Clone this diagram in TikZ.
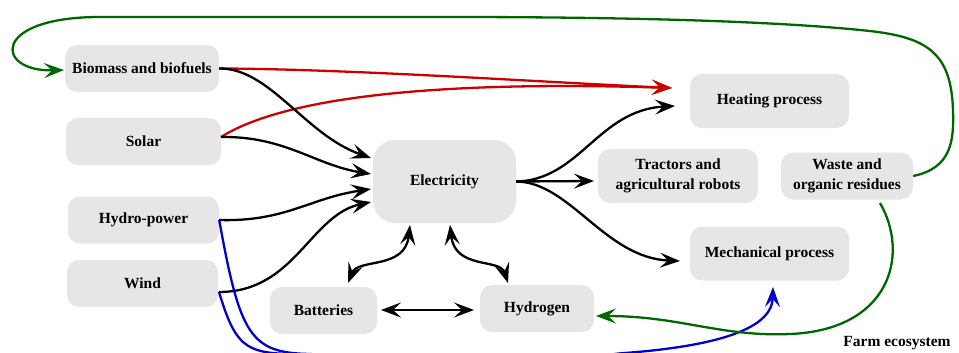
\documentclass[tikz,border=0pt]{standalone}
\usepackage{fontspec}
\setmainfont{Liberation Serif}
\usetikzlibrary{arrows.meta,calc}
\definecolor{boxgray}{HTML}{E6E6E6}
\definecolor{redline}{HTML}{CC0000}
\definecolor{greenline}{HTML}{006600}
\definecolor{blueline}{HTML}{0000CC}
\begin{document}
\begin{tikzpicture}[x=1pt,y=-1pt,
  box/.style={rectangle, rounded corners=12pt, fill=boxgray, align=center,
    font=\fontsize{15.5}{19.5}\selectfont\bfseries, inner sep=0pt},
  tip/.style={-{Stealth[length=20pt,width=15pt,inset=8pt]}},
  both/.style={{Stealth[length=20pt,width=15pt,inset=8pt]}-{Stealth[length=20pt,width=15pt,inset=8pt]}},
  conn/.style={line width=2.3pt, black},
  redc/.style={line width=2.3pt, redline},
  greenc/.style={line width=2.3pt, greenline},
  bluec/.style={line width=2.3pt, blueline},
  lbl/.style={font=\fontsize{15.5}{19}\selectfont\bfseries}
]
\useasboundingbox (0,0) rectangle (959,353);
\clip (0,0) rectangle (959,353);

% nodes
\node[box, minimum width=154pt, minimum height=47pt] (bio) at (142,68.5) {Biomass and biofuels};
\node[box, minimum width=155pt, minimum height=47pt] (solar) at (143.5,141.5) {Solar};
\node[box, minimum width=151pt, minimum height=47pt] (hydro) at (143.5,220) {Hydro-power};
\node[box, minimum width=151pt, minimum height=47pt] (wind) at (142.5,283.5) {Wind};
\node[box, rounded corners=22pt, minimum width=143pt, minimum height=83pt] (elec) at (444.5,181.5) {Electricity};
\node[box, minimum width=107pt, minimum height=47pt] (batt) at (323.5,310.5) {Batteries};
\node[box, minimum width=114pt, minimum height=47pt] (hyd) at (537,308.5) {Hydrogen};
\node[box, minimum width=159pt, minimum height=54pt] (heat) at (769.5,101) {Heating process};
\node[box, minimum width=160pt, minimum height=54pt] (tract) at (678,176) {Tractors and\\agricultural robots};
\node[box, minimum width=132pt, minimum height=47pt] (waste) at (847,176) {Waste and\\organic residues};
\node[box, minimum width=159pt, minimum height=54pt] (mech) at (769.5,253.5) {Mechanical process};
\node[lbl] (farm) at (897,343) {Farm ecosystem};

% end coordinates
\coordinate (heatR) at (672,88);
\coordinate (heatB) at (675,106);
\coordinate (eIn1) at (371,158);
\coordinate (eIn2) at (371,174);
\coordinate (eIn3) at (371,189);
\coordinate (eIn4) at (371,202);
\coordinate (tractIn) at (594,181);
\coordinate (mechIn) at (680,261);
\coordinate (battUp) at (348,283);
\coordinate (elecBL) at (410,225);
\coordinate (elecBR) at (450,225);
\coordinate (hydUp) at (508,283);
\coordinate (battR) at (381,310);
\coordinate (hydL) at (474,310);
\coordinate (windOut) at (219,292);
\coordinate (solarOut) at (221,137);
\coordinate (mechBlue) at (773,287);
\coordinate (bioIn) at (64,70);
\coordinate (hydIn) at (596,316);
\coordinate (wasteBot) at (880,203);

% red
\draw[redc, tip] (bio.east) .. controls (350,69) and (540,82) .. (heatR);
\draw[redc, tip] (solarOut) .. controls (280,100) and (420,80) .. (heatR);

% black inputs to electricity
\draw[conn, tip] (bio.east) .. controls (270,68) and (305,135) .. (eIn1);
\draw[conn, tip] (solarOut) .. controls (285,136) and (315,165) .. (eIn2);
\draw[conn, tip] (hydro.east) .. controls (285,222) and (310,198) .. (eIn3);
\draw[conn, tip] (windOut) .. controls (295,292) and (310,215) .. (eIn4);

% electricity outputs
\draw[conn, tip] (elec.east) .. controls (580,180) and (598,110) .. (heatB);
\draw[conn, tip] (elec.east) -- (tractIn);
\draw[conn, tip] (elec.east) .. controls (570,182) and (605,258) .. (mechIn);

% storage
\draw[conn, both] (battUp) .. controls (358,258) and (405,270) .. (elecBL);
\draw[conn, both] (elecBR) .. controls (455,270) and (500,258) .. (hydUp);
\draw[conn, both] (battR) -- (hydL);

% blue
\draw[bluec] (hydro.east) .. controls (240,335) and (250,353) .. (310,354)
  .. controls (400,362) and (550,362) .. (625,353);
\draw[bluec] (windOut) .. controls (235,345) and (245,353) .. (290,354)
  .. controls (400,362) and (550,362) .. (625,353);
\draw[bluec, tip] (625,353) .. controls (730,345) and (772,325) .. (mechBlue);

% green
\draw[greenc, tip] (waste.east) .. controls (952,168) and (954,140) .. (953,110)
  .. controls (951,50) and (925,36) .. (860,30)
  .. controls (760,20) and (600,17) .. (450,17)
  -- (100,17) .. controls (-10,17) and (-5,72) .. (bioIn);
\draw[greenc, tip] (wasteBot) .. controls (910,255) and (890,330) .. (790,334)
  .. controls (720,337) and (680,316) .. (hydIn);
\end{tikzpicture}
\end{document}
